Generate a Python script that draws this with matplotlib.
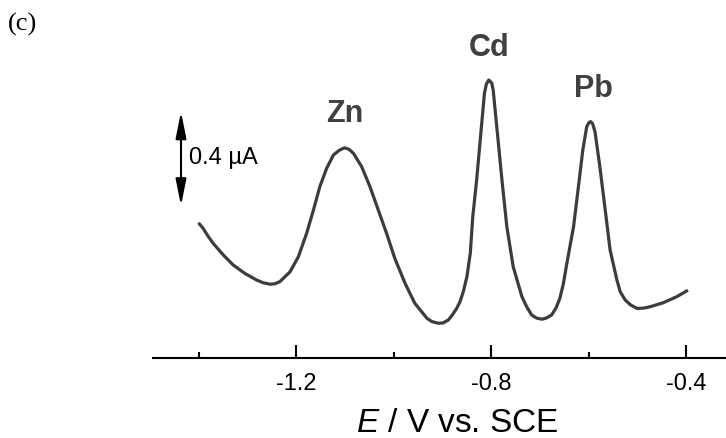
import matplotlib
matplotlib.use("Agg")
import matplotlib.pyplot as plt

plt.rcParams['font.family'] = ['Liberation Sans', 'DejaVu Sans']
plt.rcParams['mathtext.fontset'] = 'custom'
plt.rcParams['mathtext.rm'] = 'Liberation Sans'
plt.rcParams['mathtext.it'] = 'Liberation Sans:italic'
plt.rcParams['axes.unicode_minus'] = False

# potential (V vs. SCE) and current (uA, arbitrary offset)
potential = [-1.399, -1.392, -1.382, -1.371, -1.350, -1.330, -1.306, -1.282,
             -1.268, -1.254, -1.244, -1.234, -1.213, -1.196, -1.179, -1.165,
             -1.152, -1.138, -1.124, -1.112, -1.104, -1.100, -1.092, -1.083,
             -1.066, -1.049, -1.032, -1.015, -0.998, -0.977, -0.957, -0.932,
             -0.922, -0.909, -0.899, -0.888, -0.880, -0.871, -0.864, -0.857,
             -0.850, -0.843, -0.838, -0.830, -0.822, -0.814, -0.810, -0.805,
             -0.799, -0.796, -0.788, -0.778, -0.768, -0.755, -0.737, -0.727,
             -0.717, -0.707, -0.696, -0.687, -0.676, -0.667, -0.659, -0.652,
             -0.645, -0.631, -0.621, -0.612, -0.604, -0.600, -0.596, -0.592,
             -0.587, -0.577, -0.566, -0.556, -0.542, -0.535, -0.525, -0.514,
             -0.501, -0.488, -0.474, -0.447, -0.419, -0.399]
current = [0.570, 0.553, 0.520, 0.488, 0.438, 0.396, 0.360, 0.332,
           0.320, 0.314, 0.316, 0.325, 0.367, 0.431, 0.531, 0.630,
           0.729, 0.807, 0.864, 0.884, 0.892, 0.894, 0.888, 0.871,
           0.814, 0.729, 0.630, 0.531, 0.424, 0.318, 0.233, 0.169,
           0.155, 0.148, 0.149, 0.162, 0.183, 0.211, 0.240, 0.285,
           0.346, 0.446, 0.600, 0.757, 0.942, 1.126, 1.166, 1.183,
           1.170, 1.140, 0.970, 0.757, 0.559, 0.389, 0.261, 0.217,
           0.183, 0.170, 0.165, 0.170, 0.183, 0.213, 0.255, 0.315,
           0.400, 0.559, 0.729, 0.885, 0.984, 1.000, 1.006, 0.998,
           0.963, 0.814, 0.630, 0.460, 0.332, 0.281, 0.247, 0.226,
           0.211, 0.212, 0.218, 0.235, 0.261, 0.285]

major_ticks = [-1.2, -0.8, -0.4]
major_labels = ['-1.2', '-0.8', '-0.4']
minor_ticks = [-1.4, -1.0, -0.6]

peak_names = ['Zn', 'Cd', 'Pb']
peak_label_x = [-1.100, -0.8035, -0.591]
peak_label_y = [1.004, 1.285, 1.111]

scale_bar = 0.4  # uA
scale_bar_bottom = 0.648

fig = plt.figure(figsize=(7.26, 4.38), dpi=100)
ax = fig.add_axes([153 / 726, 80 / 438, 573 / 726, 358 / 438])

ax.plot(potential, current, color='#3c3c3c', lw=2.3, solid_joinstyle='round')

ax.set_xlim(-1.4945, -0.318)
ax.set_ylim(0, 358 / 235)

for side in ['left', 'top', 'right']:
    ax.spines[side].set_visible(False)
ax.spines['bottom'].set_linewidth(1.5)
ax.set_yticks([])

ax.set_xticks(major_ticks)
ax.set_xticklabels(major_labels)
ax.set_xticks(minor_ticks, minor=True)
ax.tick_params(axis='x', which='major', direction='in', length=9.4, width=1.5,
               labelsize=17, pad=11)
ax.tick_params(axis='x', which='minor', direction='in', length=4.3, width=1.5)
ax.set_xlabel(r'$E$ / V vs. SCE', fontsize=24, va='baseline')
ax.xaxis.set_label_coords(0.5305, -0.2067)

for name, px, py in zip(peak_names, peak_label_x, peak_label_y):
    ax.text(px, py, name, fontsize=22, fontweight='bold', color='#404040',
            ha='center', va='baseline')

# scale bar
ax.annotate('', xy=(-1.437, scale_bar_bottom + scale_bar), xytext=(-1.437, scale_bar_bottom),
            arrowprops=dict(arrowstyle='<|-|>,head_length=1.0,head_width=0.2',
                            color='black', lw=1.5, mutation_scale=16,
                            shrinkA=0, shrinkB=0))
ax.text(-1.4205, scale_bar_bottom + scale_bar / 2 + 0.005, '0.4 \u00b5A', fontsize=17,
        ha='left', va='center')

fig.text(8 / 726, 1 - 13 / 438, '(c)', fontsize=19, family='Liberation Serif',
         ha='left', va='top')

fig.savefig('out.png', dpi=100)
